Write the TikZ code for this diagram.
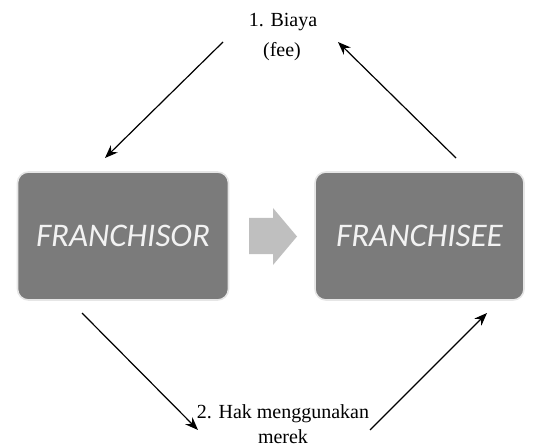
\documentclass[tikz,border=0pt]{standalone}
\usepackage{fontspec}
\setmainfont{Liberation Serif}
\newfontfamily\boxfont{Carlito}
\usepackage{tikz}
\usetikzlibrary{arrows.meta}
\definecolor{boxgray}{HTML}{7B7B7B}
\definecolor{boxrim}{HTML}{E6E6E6}
\definecolor{boxtext}{HTML}{F2F2F2}
\definecolor{arrowgray}{HTML}{BFBFBF}

\begin{document}
\begin{tikzpicture}[x=1pt,y=1pt,>={Stealth[length=13pt,width=10pt]},
                    line width=1.2pt]
  \tikzstyle{every box}=[rectangle,rounded corners=11pt,fill=boxgray,
                         draw=boxrim,line width=1.6pt,text=boxtext,
                         font=\boxfont\itshape\fontsize{33}{36}\selectfont]
  \tikzstyle{label text}=[anchor=base,inner sep=0pt,
                          font=\fontsize{20}{24}\selectfont]
  \useasboundingbox (0,0) rectangle (548,-446);

  \node[every box,minimum width=211pt,minimum height=128pt]
        (fsor) at (123,-236) {FRANCHISOR};
  \node[every box,minimum width=209pt,minimum height=128pt]
        (fsee) at (419.5,-236) {FRANCHISEE};

  % arrow between the two boxes
  \fill[arrowgray] (249,-218) -- (273,-218) -- (273,-208) -- (297,-236.5)
        -- (273,-265) -- (273,-254) -- (249,-254) -- cycle;

  \node[label text] (biaya) at (283,-27)  {1. Biaya};
  \node[label text] (fee)   at (282,-57)  {(fee)};
  \node[label text] (hak)   at (283,-418) {2. Hak menggunakan};
  \node[label text] (merek) at (283,-443) {merek};

  \coordinate (fee-l)  at (223,-42);
  \coordinate (sor-t)  at (105,-158);
  \coordinate (fee-r)  at (338,-42);
  \coordinate (see-t)  at (456,-158);
  \coordinate (sor-b)  at (82,-313);
  \coordinate (hak-l)  at (198,-430);
  \coordinate (hak-r)  at (370,-430);
  \coordinate (see-b)  at (487,-313);

  \draw[->] (fee-l) -- (sor-t);
  \draw[->] (see-t) -- (fee-r);
  \draw[->] (sor-b) -- (hak-l);
  \draw[->] (hak-r) -- (see-b);
\end{tikzpicture}
\end{document}
